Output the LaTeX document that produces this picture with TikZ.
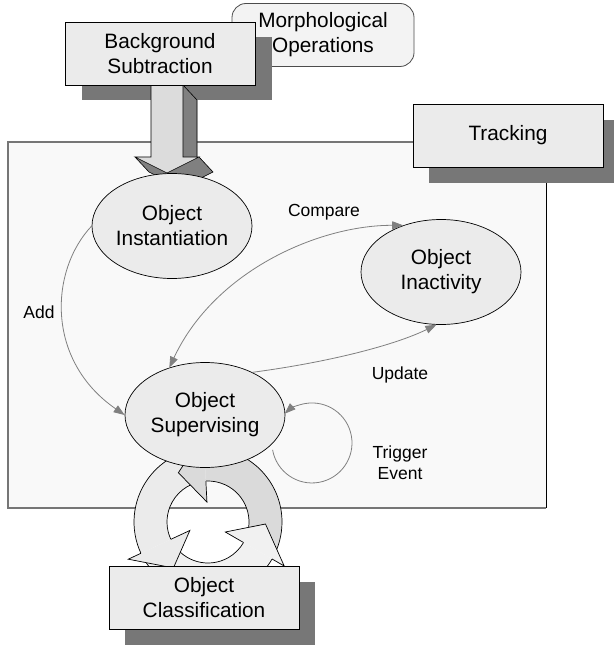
\documentclass[tikz,border=0pt]{standalone}
\usepackage{fontspec}
\setmainfont{Liberation Sans}
\usetikzlibrary{arrows.meta,shapes.geometric}

\definecolor{boxfill}{HTML}{EBEBEB}
\definecolor{shadowc}{HTML}{777777}
\definecolor{panelfill}{HTML}{F9F9F9}
\definecolor{panelline}{HTML}{767676}
\definecolor{linkc}{HTML}{808080}
\definecolor{morphfill}{HTML}{F3F3F3}
\definecolor{arrowlight}{HTML}{DCDCDC}
\definecolor{arrowdark}{HTML}{808080}
\definecolor{ringA}{HTML}{DADADA}
\definecolor{ringB}{HTML}{EBEBEB}
\definecolor{ringC}{HTML}{F1F1F1}

\newcommand{\boxfont}{\fontsize{20.8pt}{25pt}\selectfont}
\newcommand{\lblfont}{\fontsize{17.5pt}{21pt}\selectfont}

\begin{document}
\begin{tikzpicture}[x=1pt,y=-1pt,
  >={Triangle[length=11pt,width=8pt]},
  boxnode/.style={draw=black, line width=0.8pt, fill=boxfill,
    minimum width=190pt, minimum height=63pt, inner sep=0pt,
    align=center, font=\boxfont},
  shadownode/.style={fill=shadowc, minimum width=190pt,
    minimum height=63pt, inner sep=0pt},
  ellnode/.style={ellipse, draw=black, line width=0.7pt, fill=boxfill,
    minimum width=160pt, minimum height=105pt, inner sep=0pt,
    align=center, font=\boxfont},
  morphnode/.style={draw=black!70, line width=0.8pt, fill=morphfill,
    rounded corners=14pt, minimum width=182pt, minimum height=63pt,
    inner sep=0pt, align=center, font=\boxfont},
  link/.style={draw=linkc, line width=0.8pt},
  lbl/.style={font=\lblfont, align=center, inner sep=0pt},
  ringline/.style={draw=black, line width=0.7pt},
  arrowline/.style={draw=black, line width=0.6pt, line join=miter}
]
\useasboundingbox (0,0) rectangle (613,647);
\fill[white] (0,0) rectangle (613,647);

% tracking panel
\fill[panelfill] (8,142) rectangle (546,508);
\draw[panelline, line width=1.5pt] (546,508) -- (8,508) -- (8,142) -- (546,142);
\draw[black, line width=0.8pt] (546,142) -- (546,508);

% tracking title box
\node[shadownode] (trackshadow) at (524,151.5) {};
\node[boxnode] (track) at (508,135.5) {Tracking};

% morphological operations
\node[morphnode] (morph) at (323,35) {Morphological\\Operations};

% background subtraction shadow
\node[shadownode] (bgshadow) at (177,68.5) {};

% block arrow into the tracking panel (extruded)
\fill[arrowdark] (165,100) -- (197,100) -- (197,172) -- (213,172) -- (181,188) -- (149,172) -- (165,172) -- cycle;
\fill[arrowdark] (183,85) -- (197,100) -- (197,172) -- (183,157) -- cycle;
\fill[arrowdark] (183,157) -- (199,157) -- (213,172) -- (197,172) -- cycle;
\fill[arrowdark] (199,157) -- (167,173) -- (181,188) -- (213,172) -- cycle;
\fill[arrowdark] (167,173) -- (135,157) -- (149,172) -- (181,188) -- cycle;
\draw[arrowline] (183,85) -- (197,100) -- (197,157);
\draw[arrowline] (199,157) -- (213,172) -- (181,188) -- (149,172) -- (135,157);
\filldraw[fill=arrowlight, arrowline] (151,85) -- (183,85) -- (183,157) -- (199,157)
  -- (167,173) -- (135,157) -- (151,157) -- cycle;

% background subtraction box
\node[boxnode] (bg) at (160,53.5) {Background\\Subtraction};

% classification cycle ring
\begin{scope}[shift={(208,522)}]
  % bodies
  \fill[ringA] (25:74) arc[start angle=25, end angle=-93, radius=74]
    -- (-93:41) arc[start angle=-93, end angle=25, radius=41] -- cycle;
  \draw[ringline] (-93:74) arc[start angle=-93, end angle=25, radius=74]
    -- (25:41) arc[start angle=25, end angle=-93, radius=41];
  \fill[ringB] (262:74) arc[start angle=262, end angle=155, radius=74]
    -- (155:41) arc[start angle=155, end angle=262, radius=41] -- cycle;
  \draw[ringline] (155:74) arc[start angle=155, end angle=262, radius=74]
    -- (262:41) arc[start angle=262, end angle=155, radius=41];
  \fill[ringC] (150:74) arc[start angle=150, end angle=30, radius=74]
    -- (30:41) arc[start angle=30, end angle=150, radius=41] -- cycle;
  \draw[ringline] (30:74) arc[start angle=30, end angle=150, radius=74]
    -- (150:41) arc[start angle=150, end angle=30, radius=41];
  % heads
  \fill[ringA] (-93:20) -- (-121:57.5) -- (-93:88) -- cycle;
  \draw[ringline] (-93:41) -- (-93:20) -- (-121:57.5) -- (-93:88) -- (-93:74);
  \fill[ringB] (155:20) -- (127:57.5) -- (155:88) -- cycle;
  \draw[ringline] (155:41) -- (155:20) -- (127:57.5) -- (155:88) -- (155:74);
  \fill[ringC] (30:20) -- (2:57.5) -- (30:88) -- cycle;
  \draw[ringline] (30:41) -- (30:20) -- (2:57.5) -- (30:88) -- (30:74);
\end{scope}

% states
\node[ellnode] (inst) at (172,226) {Object\\Instantiation};
\node[ellnode] (sup) at (205,415) {Object\\Supervising};
\node[ellnode] (inact) at (441,272) {Object\\Inactivity};

% transitions
\draw[link,->] (inst.west) .. controls (50,270) and (45,360) .. (sup.west);
\draw[link,<->] (sup.127) .. controls (215,270) and (320,225) .. (inact.129);
\draw[link,->] (sup.42) .. controls (330,362) and (395,345) .. (inact.265);
\coordinate (loopstart) at (272.6,449.9);
\draw[link,->] (loopstart) arc[start angle=170, end angle=-133, radius=40];

\node[lbl] (addlbl) at (39,312) {Add};
\node[lbl] (cmplbl) at (324,212) {Compare};
\node[lbl] (updlbl) at (400,375) {Update};
\node[lbl] (trglbl) at (400,463) {Trigger\\Event};

% classification box
\node[shadownode] (clsshadow) at (220,613.5) {};
\node[boxnode] (cls) at (204,597.5) {Object\\Classification};
\end{tikzpicture}
\end{document}
